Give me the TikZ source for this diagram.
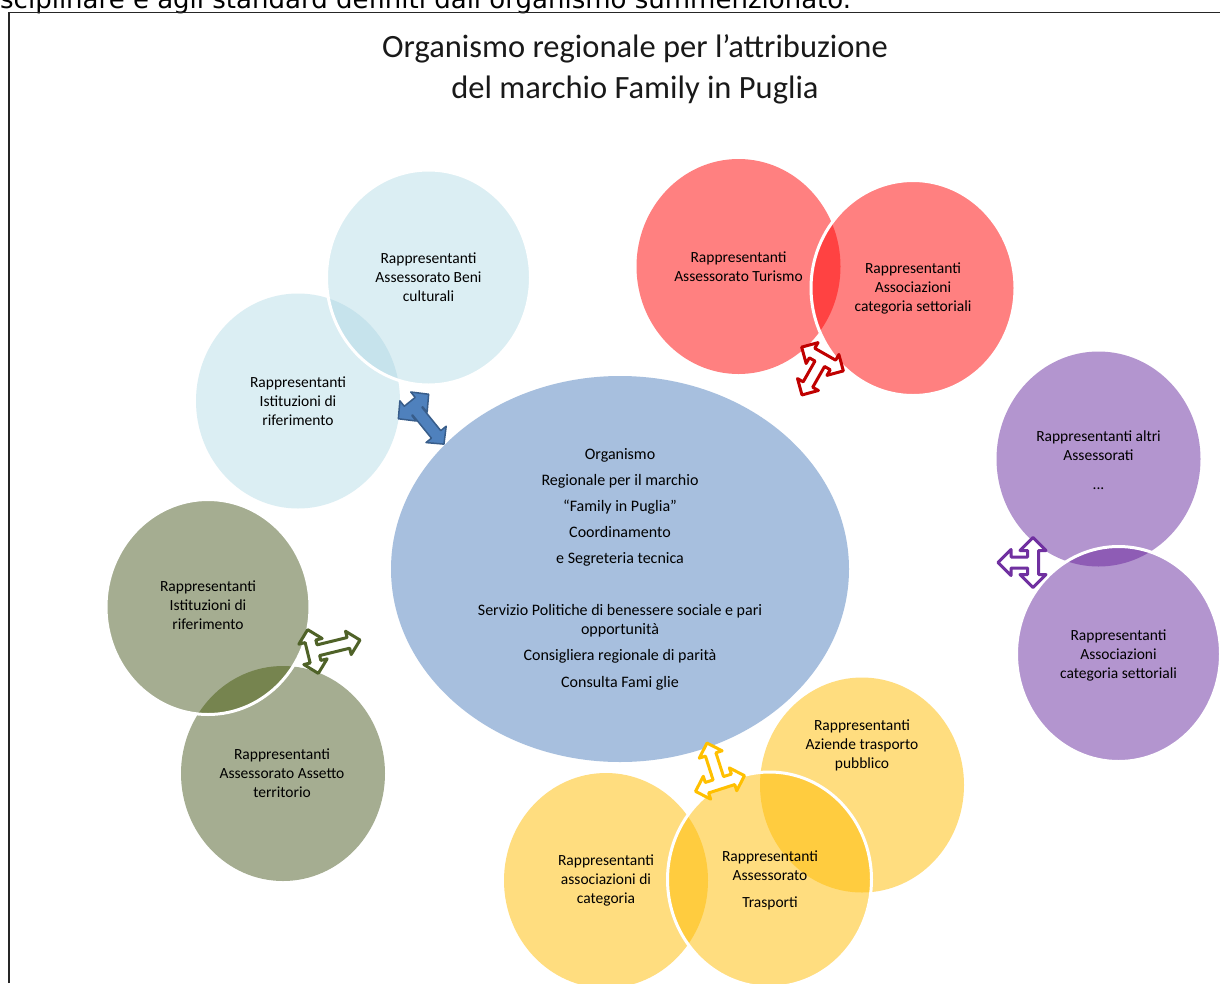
\documentclass[tikz,border=0pt]{standalone}
\usepackage{fontspec}
\setmainfont{Carlito}
\newfontfamily\verd{DejaVu Sans}
\usetikzlibrary{shapes.geometric}
\definecolor{lb}{HTML}{DBEEF3}
\definecolor{lbo}{HTML}{C6E3EC}
\definecolor{rd}{HTML}{FF8080}
\definecolor{rdo}{HTML}{FF4242}
\definecolor{pu}{HTML}{B395CF}
\definecolor{puo}{HTML}{8E5CB5}
\definecolor{gr}{HTML}{A5AD91}
\definecolor{gro}{HTML}{76844F}
\definecolor{ye}{HTML}{FFDD7F}
\definecolor{yeo}{HTML}{FFCC3F}
\definecolor{cen}{HTML}{A7BFDE}
\definecolor{arB}{HTML}{4F81BD}
\definecolor{arBd}{HTML}{385D8A}
\definecolor{arR}{HTML}{C00000}
\definecolor{arP}{HTML}{7030A0}
\definecolor{arG}{HTML}{4F6228}
\definecolor{arY}{HTML}{FFC000}
\tikzset{
  bub/.style={ellipse, minimum width=204pt, minimum height=215pt, inner sep=0pt, draw=none},
  lbl/.style={align=center, font=\fontsize{15.5}{19}\selectfont, inner sep=0pt, text=black},
  clbl/.style={align=center, font=\fontsize{16}{19}\selectfont, inner sep=0pt, text=black},
  rim/.style={draw=white, line width=3pt},
  tarr/.style={line width=3pt, fill=white, line join=round},
}
% #1 style, #2 cx, #3 cy, #4 rotation, #5 half crossbar, #6 stem, #7 shaft half width, #8 head half width, #9 head length
\newcommand{\Tarrow}[9]{%
  \draw[#1, shift={(#2,#3)}, rotate=#4]
  ({-#5},0) -- ({-#5+#9},{#8}) -- ({-#5+#9},{#7}) -- ({-#7},{#7}) -- ({-#7},{#6-#9})
  -- ({-#8},{#6-#9}) -- (0,{#6}) -- ({#8},{#6-#9}) -- ({#7},{#6-#9}) -- ({#7},{#7})
  -- ({#5-#9},{#7}) -- ({#5-#9},{#8}) -- ({#5},0) -- ({#5-#9},{-#8}) -- ({#5-#9},{-#7})
  -- ({-#5+#9},{-#7}) -- ({-#5+#9},{-#8}) -- cycle;}
\begin{document}
\begin{tikzpicture}[x=1pt,y=-1pt]
\useasboundingbox (0,0) rectangle (1220,983);
\fill[white] (0,0) rectangle (1220,983);
% cut text at top
\node[anchor=base west, inner sep=0pt, font=\verd\fontsize{26}{30}\selectfont] (cut) at (0,8) {sciplinare e agli standard definiti dall’organismo summenzionato.};
% frame
\draw[line width=1.8pt, black!85] (9,983) -- (9,12.5) -- (1220,12.5);
% title
\node[align=center, font=\fontsize{32.5}{41}\selectfont, inner sep=0pt, text=black!90] (title) at (635,69) {Organismo regionale per l’attribuzione\\del marchio Family in Puglia};

% light blue pair
\node[bub, fill=lb] (ist) at (298,401) {};
\node[bub, fill=lb] (beni) at (428.5,277.5) {};
\begin{scope}
\clip (ist.center) ellipse [x radius=102pt, y radius=107.5pt];
\fill[lbo] (beni.center) ellipse [x radius=102pt, y radius=107.5pt];
\end{scope}
\draw[rim] (beni.center) ellipse [x radius=102pt, y radius=107.5pt];

% red pair
\node[bub, fill=rd] (tur) at (738.5,266.5) {};
\node[bub, fill=rd] (rass) at (913,288) {};
\begin{scope}
\clip (tur.center) ellipse [x radius=102pt, y radius=107.5pt];
\fill[rdo] (rass.center) ellipse [x radius=102pt, y radius=107.5pt];
\end{scope}
\draw[rim] (rass.center) ellipse [x radius=102pt, y radius=107.5pt];

% purple pair
\node[bub, fill=pu] (alt) at (1098.5,459) {};
\node[bub, fill=pu] (pass) at (1118.5,654) {};
\begin{scope}
\clip (alt.center) ellipse [x radius=102pt, y radius=107.5pt];
\fill[puo] (pass.center) ellipse [x radius=102pt, y radius=107.5pt];
\end{scope}
\draw[rim] (pass.center) ellipse [x radius=102pt, y radius=107.5pt];

% green pair
\node[bub, fill=gr] (gass) at (283,773.5) {};
\node[bub, fill=gr] (gist) at (208,607) {};
\begin{scope}
\clip (gass.center) ellipse [x radius=102pt, y radius=107.5pt];
\fill[gro] (gist.center) ellipse [x radius=102pt, y radius=107.5pt];
\end{scope}
\draw[rim] (gist.center) ellipse [x radius=102pt, y radius=107.5pt];

% yellow trio
\node[bub, fill=ye] (ycat) at (606,880.5) {};
\node[bub, fill=ye] (yaz) at (862,785) {};
\node[bub, fill=ye] (ytr) at (769.5,879.5) {};
\begin{scope}
\clip (ytr.center) ellipse [x radius=102pt, y radius=107.5pt];
\fill[yeo] (ycat.center) ellipse [x radius=102pt, y radius=107.5pt];
\fill[yeo] (yaz.center) ellipse [x radius=102pt, y radius=107.5pt];
\end{scope}
\draw[rim] (ytr.center) ellipse [x radius=102pt, y radius=107.5pt];

% central ellipse
\node[ellipse, fill=cen, minimum width=458pt, minimum height=386pt, inner sep=0pt] (org) at (620,569) {};

% labels
\node[clbl] (orgt) at (org.center) {Organismo\\[7pt]Regionale per il marchio\\[7pt]“Family in Puglia”\\[7pt]Coordinamento\\[7pt]e Segreteria tecnica\\[33pt]Servizio Politiche di benessere sociale e pari\\opportunità\\[7pt]Consigliera regionale di parità\\[8pt]Consulta Fami glie};
\node[lbl] (benit) at (beni.center) {Rappresentanti\\Assessorato Beni\\culturali};
\node[lbl] (istt) at (ist.center) {Rappresentanti\\Istituzioni di\\riferimento};
\node[lbl] (turt) at (tur.center) {Rappresentanti\\Assessorato Turismo};
\node[lbl] (rasst) at (rass.center) {Rappresentanti\\Associazioni\\categoria settoriali};
\node[lbl] (altt) at (1098.5,460.5) {Rappresentanti altri\\Assessorati\\[10pt]...};
\node[lbl] (passt) at (1118.5,655) {Rappresentanti\\Associazioni\\categoria settoriali};
\node[lbl] (gistt) at (208,605) {Rappresentanti\\Istituzioni di\\riferimento};
\node[lbl] (gasst) at (282,773) {Rappresentanti\\Assessorato Assetto\\territorio};
\node[lbl] (ycatt) at (606,880) {Rappresentanti\\associazioni di\\categoria};
\node[lbl] (ytrt) at (770,880) {Rappresentanti\\Assessorato\\[8pt]Trasporti};
\node[lbl] (yazt) at (862,745) {Rappresentanti\\Aziende trasporto\\pubblico};

% three-way arrows
\Tarrow{fill=arB, draw=arBd, line width=1.5pt, line join=round}{413.5}{406.5}{39}{19.5}{48.4}{6}{13}{12.5}
\Tarrow{tarr, draw=arR}{822.5}{359}{-29.7}{24}{41.4}{5.5}{12}{12}
\Tarrow{tarr, draw=arG}{313}{651.5}{103.7}{22.5}{48.4}{5.5}{12}{12}
\Tarrow{tarr, draw=arY}{720}{783.5}{197.8}{25.7}{42.5}{5.5}{12}{12}
\Tarrow{tarr, draw=arP}{1033}{562.5}{270}{25}{35}{5.5}{13}{13}
\end{tikzpicture}
\end{document}
